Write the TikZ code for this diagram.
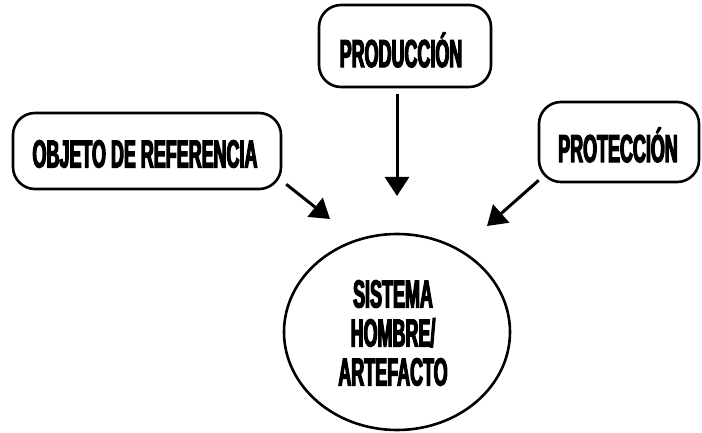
\documentclass[tikz,border=0pt]{standalone}
\usepackage{fontspec}
\setmainfont{Liberation Sans}
\newfontfamily\condfont[FakeStretch=0.46,FakeBold=3]{Liberation Sans Bold}
\usetikzlibrary{arrows.meta,shapes.geometric}
\begin{document}
\begin{tikzpicture}[x=1pt,y=-1pt,
  lbl/.style={font=\condfont\fontsize{39}{45}\selectfont, align=center, text=black},
  bubble/.style={draw=black, line width=2.6pt, rounded corners=22pt, inner sep=0pt},
  conn/.style={line width=3pt, -{Triangle[width=24pt,length=19pt]}}]
\useasboundingbox (0,0) rectangle (702,433);
\node[bubble, minimum width=268pt, minimum height=76pt] (obj) at (147,151) {};
\node[lbl] at (145,154) {OBJETO DE REFERENCIA};
\node[bubble, minimum width=172pt, minimum height=82pt] (prod) at (405,46) {};
\node[lbl] at (401,50) {PRODUCCIÓN};
\node[bubble, minimum width=160pt, minimum height=80pt] (prot) at (619,142) {};
\node[lbl] at (618,145) {PROTECCIÓN};
\node[ellipse, draw=black, line width=2.6pt, minimum width=226pt, minimum height=196pt] (sys) at (397,332) {};
\node[lbl, text width=200pt] at (393,333) {SISTEMA\\[-6pt]HOMBRE/\\[-6pt]ARTEFACTO};
\coordinate (a1) at (330,219);
\coordinate (a2) at (397,196);
\coordinate (a3) at (487,226);
\draw[conn] (obj.south east) ++(4,-6) -- (a1);
\draw[conn] (prod.south) ++(-8,6) -- (a2);
\draw[conn] (prot.south west) ++(1,-3) -- (a3);
\end{tikzpicture}
\end{document}
